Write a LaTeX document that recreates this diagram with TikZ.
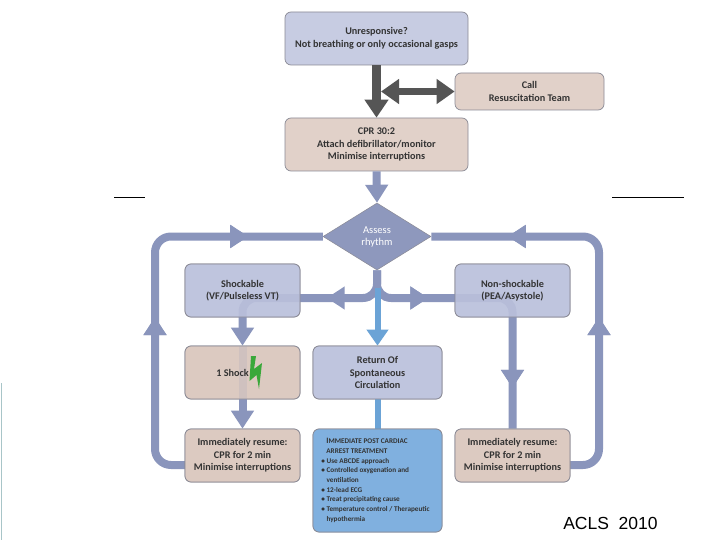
\documentclass[tikz,border=0pt]{standalone}
\usepackage{fontspec}
\setmainfont{Carlito}
\newfontfamily\aclsfont{Liberation Sans}
\usetikzlibrary{arrows.meta,decorations.markings,shapes.geometric,calc}
\definecolor{lav}{HTML}{BEC4DE}
\definecolor{tanbox}{HTML}{DCC9C0}
\definecolor{flow}{HTML}{8A95BC}
\definecolor{dia}{HTML}{8E98BD}
\definecolor{dgray}{HTML}{555555}
\definecolor{rblue}{HTML}{6BA3D6}
\definecolor{pblue}{HTML}{80B0DF}
\definecolor{bord}{HTML}{8A8A95}
\definecolor{txt}{HTML}{333333}
\definecolor{bolt}{HTML}{3AA83A}
\definecolor{faint}{HTML}{A8C5C8}
\tikzset{
  box/.style={draw=bord, line width=0.7pt, rounded corners=6pt, fill opacity=0.85, text opacity=1,
    align=center, inner sep=0pt, text=txt, font=\bfseries\fontsize{10.2}{12.5}\selectfont},
  lavbox/.style={box, fill=lav},
  tanb/.style={box, fill=tanbox},
  flowline/.style={draw=flow, line width=8pt},
  darkline/.style={draw=dgray, line width=9pt},
  blueline/.style={draw=rblue, line width=6pt},
  midarrow/.style={postaction={decorate}, decoration={markings,
     mark=at position #1 with {\arrow[flow]{Triangle[length=18pt,width=22pt]}}}},
}
\begin{document}
\begin{tikzpicture}[x=1pt,y=-1pt]
\useasboundingbox (0,0) rectangle (720,540);
\fill[white] (0,0) rectangle (720,540);

% nodes of the upper part
\node[lavbox, minimum width=183pt, minimum height=53pt] (unresp) at (376.5,38.5)
  {Unresponsive?\\Not breathing or only occasional gasps};
\node[tanb, minimum width=149pt, minimum height=37pt] (call) at (529.5,91.5)
  {Call\\Resuscitation Team};
\node[tanb, minimum width=183pt, minimum height=53pt] (cpr) at (376.5,144.5)
  {CPR 30:2\\Attach defibrillator/monitor\\Minimise interruptions};
\node[diamond, draw=bord, line width=0.5pt, fill=dia, aspect=1.61, minimum width=108pt, minimum height=67pt,
  inner sep=0pt, text=white, align=center, font=\fontsize{10.5}{12}\selectfont] (d) at (377,236.5) {Assess\\rhythm};

\coordinate (lb) at (185,465);
\coordinate (lc) at (155,236.5);
\coordinate (rb) at (570,465);
\coordinate (rc) at (599,236.5);
\coordinate (fl) at (242.5,298);
\coordinate (fr) at (512.5,298);
\coordinate (bs) at (377.5,288);
\coordinate (j) at (381,91.5);

% connectors (drawn under boxes)
\draw[flowline, rounded corners=16pt, midarrow=171pt, midarrow=338pt] (lb) -| (lc) -- (d.west);
\draw[flowline, rounded corners=16pt, midarrow=170pt, midarrow=335pt] (rb) -| (rc) -- (d.east);
\draw[flowline, -{Triangle[length=18pt,width=22pt]}] (cpr.south) -- (d.north);
\draw[darkline, -{Triangle[length=18pt,width=23pt]}] (unresp.south) -- (cpr.north);
\draw[darkline, line width=7pt, {Triangle[length=18pt,width=24pt]}-{Triangle[length=18pt,width=24pt]}] (j) -- (call.west);

\node[lavbox, minimum width=115pt, minimum height=53pt] (shockable) at (242.5,290.5) {};
\node[lavbox, minimum width=115pt, minimum height=53pt] (nonshock) at (512.5,290.5) {};
\node[tanb, minimum width=115pt, minimum height=53pt] (shock) at (242.5,372.5) {};
\node[lavbox, minimum width=129pt, minimum height=53pt] (rosc) at (377.5,372.5) {};
\node[tanb, minimum width=115pt, minimum height=53pt] (resumeL) at (242.5,455.5) {};
\node[tanb, minimum width=115pt, minimum height=53pt] (resumeR) at (512.5,455.5) {};
\node[box, fill=pblue, minimum width=129pt, minimum height=103pt] (post) at (377.5,480.5) {};

\draw[flowline, rounded corners=14pt, midarrow=72pt, -{Triangle[length=18pt,width=22pt]}] (d.south) |- (fl) -- (shock.north);
\draw[flowline, -{Triangle[length=18pt,width=22pt]}] (shock.north) -- (resumeL.north);
\draw[flowline, rounded corners=14pt, midarrow=73pt, midarrow=241pt] (d.south) |- (fr) -- (resumeR.north);
\draw[blueline, -{Triangle[length=16pt,width=21pt]}] (bs) -- (rosc.north);
\draw[blueline] (rosc.south) -- (post.north);

% boxes redrawn on top with their texts
\node[lavbox, minimum width=115pt, minimum height=53pt] at (shockable) {Shockable\\(VF/Pulseless VT)};
\node[lavbox, minimum width=115pt, minimum height=53pt] at (nonshock) {Non-shockable\\(PEA/Asystole)};
\node[tanb, minimum width=115pt, minimum height=53pt] at (shock) {1 Shock\hspace*{20pt}};
\node[lavbox, minimum width=129pt, minimum height=53pt] at (rosc) {Return Of\\Spontaneous\\Circulation};
\node[tanb, minimum width=115pt, minimum height=53pt] at (resumeL) {Immediately resume:\\CPR for 2 min\\Minimise interruptions};
\node[tanb, minimum width=115pt, minimum height=53pt] at (resumeR) {Immediately resume:\\CPR for 2 min\\Minimise interruptions};
\node[box, fill=pblue, fill opacity=1, minimum width=129pt, minimum height=103pt, align=left,
  font=\bfseries\fontsize{7.2}{9.7}\selectfont, text=black!80] at (post)
  {\hspace*{1pt}{\fontsize{8.2}{9.7}\selectfont I}MMEDIATE POST CARDIAC\\
   \hspace*{1pt}ARREST TREATMENT\\
   \hspace*{-4pt}\textbullet\ Use ABCDE approach\\
   \hspace*{-4pt}\textbullet\ Controlled oxygenation and\\
   \hspace*{-4pt}\phantom{\textbullet\ }ventilation\\
   \hspace*{-4pt}\textbullet\ 12-lead ECG\\
   \hspace*{-4pt}\textbullet\ Treat precipitating cause\\
   \hspace*{-4pt}\textbullet\ Temperature control / Therapeutic\\
   \hspace*{-4pt}\phantom{\textbullet\ }hypothermia};

% lightning bolt
\fill[bolt] (251,356) -- (256,356) -- (254,369) -- (262,363) -- (259,389) -- (256.5,375) -- (249.5,381) -- cycle;

% stray lines
\draw[black, line width=0.9pt] (114,197) -- (145,197);
\draw[black, line width=0.9pt] (612,197) -- (684,197);
\draw[faint, line width=1.5pt] (1.5,383) -- (1.5,540);

\node[font=\aclsfont\fontsize{17.5}{20}\selectfont, inner sep=0pt] (acls) at (610.5,523) {ACLS\ \ 2010};
\end{tikzpicture}
\end{document}
